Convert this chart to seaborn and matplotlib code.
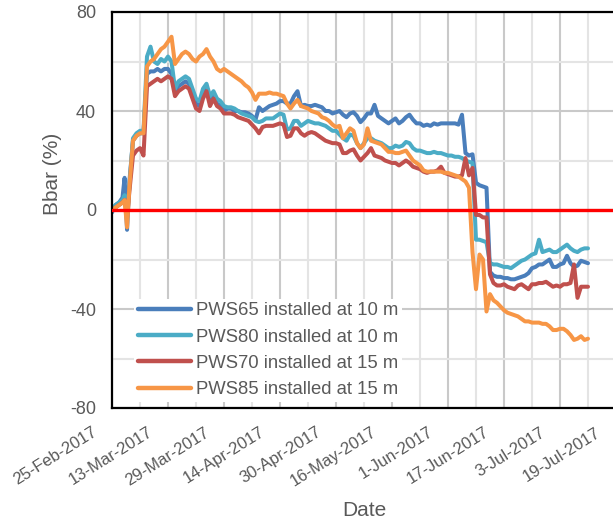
import matplotlib
matplotlib.use("Agg")
import matplotlib.pyplot as plt
import matplotlib.transforms as mtransforms
import pandas as pd
import seaborn as sns

# ---- data -------------------------------------------------------------
start = pd.Timestamp("2017-02-25")
days = [0, 1, 2, 3, 3.6, 4.3] + list(range(5, 137))   # days since start

pws65 = [-1, 2, 3, 5, 13, -8,
         12, 28, 30, 31, 31,
         55, 56, 56, 57, 56, 57, 57, 55, 48, 50,
         51, 52, 51, 47, 43, 42, 47, 49, 44, 46,
         43, 42, 40, 41, 41, 40, 40, 39.5, 39.5, 39,
         38, 36.5, 41.5, 40, 41, 42, 42.5, 43, 44, 44,
         43, 43, 46, 48, 42, 42.5, 42, 42, 42.5, 42,
         41.5, 40, 40, 39, 39.5, 40, 38.5, 37.5, 39, 39.5,
         38, 35.5, 37, 39, 39, 42.5, 38, 37, 36, 35,
         36, 37, 35, 36, 37.5, 38.5, 36.5, 35, 35, 34,
         34.5, 34, 35, 34.5, 35, 35, 35, 35, 35, 34.5,
         38.5, 23, 22, 22.5, 11, 10, 9.5, 9, -25, -26.5,
         -27, -27, -27.5, -27.5, -28, -28, -27.5, -27, -26.5, -25.5,
         -23.5, -23, -22, -22, -21, -20, -23, -23, -22, -21.5,
         -18.5, -21.5, -23, -22.5, -20.5, -21, -21.5]

pws80 = [0, 2, 3, 4, 6, -2,
         10, 29, 31, 32, 32,
         62, 66, 60, 59, 61, 60, 62, 60, 49, 52,
         53, 54, 53, 49, 45, 44, 49, 51, 46, 48,
         45, 44, 42, 41.5, 41.5, 41, 40, 39, 38.5, 38,
         37.5, 36, 35.5, 36, 37, 37, 37, 38, 39, 38.5,
         32.5, 33, 36, 36, 34, 35, 36, 35.5, 35, 35,
         34.5, 34, 33, 32, 32, 30.5, 29, 28, 30.5, 30,
         27, 25, 27, 29, 29, 28, 27.5, 27, 26, 25,
         25, 26, 25.5, 26, 27.5, 27, 25, 24, 24, 23.5,
         23, 23, 23.5, 23, 23, 22.5, 22, 22, 21.5, 21.5,
         21, 20, 19.5, 19, -12, -12, -12.5, -13, -21.5, -22,
         -22, -22.5, -23, -23, -23.5, -22.5, -21.5, -20.5, -20, -19,
         -18, -17.5, -12, -17, -16.5, -16, -17, -17, -16, -15,
         -14, -15.5, -16.5, -17, -16, -15.5, -15.5]

pws70 = [0, 1, 2, 3, 4, -3,
         8, 22, 24, 25, 22,
         50, 51, 52, 53, 52, 53, 54, 53, 46, 48,
         49, 50, 49, 45, 41, 40, 45, 48, 42, 45,
         42, 41, 39, 39, 39, 38.5, 37.5, 37, 36.5, 36,
         34.5, 33, 31, 33.5, 34, 34, 34, 34.5, 35, 34.5,
         29.5, 30, 33, 33, 31, 30, 31, 31.5, 31, 30,
         29, 28, 27.5, 27, 27, 26.5, 23, 23, 24, 24.5,
         22, 20, 21.5, 23, 25, 22, 21.5, 21, 20, 19.5,
         19, 19, 18, 19, 20, 19, 17.5, 17, 16.5, 15.5,
         15, 15.5, 15.5, 16, 17.5, 15, 14.5, 14, 13.5, 13.5,
         14, 21, 14, 17, -2, -2, -3, -3, -26, -29.5,
         -30.5, -30.5, -30, -31, -31.5, -32, -30.5, -30, -31, -32,
         -30, -30, -29.5, -29.5, -29, -30, -31, -30.5, -31, -30,
         -30, -29.5, -22, -35.5, -31, -31, -31]

pws85 = [0, 1, 2, 3, 4, -7,
         10, 28, 30, 31, 31,
         58, 60, 61, 63, 65, 66, 68, 70, 59, 61,
         63, 64, 63, 61, 60, 62, 63, 65, 62, 60,
         57, 56, 57, 56, 55, 54, 53, 52, 50.5, 49.5,
         47.5, 44.5, 47, 47, 47, 47.5, 47, 47, 46.5, 46,
         43, 41, 43, 44.5, 42, 41.5, 41, 40, 39.5, 39,
         37.5, 37, 36, 34.5, 33.5, 34, 29, 31, 33, 32,
         27, 25, 26.5, 33, 28, 27.5, 27, 26.5, 25, 23.5,
         23.5, 23, 23, 23.5, 24, 22, 20, 19, 18, 16,
         15.5, 15.5, 15.5, 15.5, 15.5, 15, 15, 14.5, 14, 13.5,
         12.5, 11.5, 9, -17, -32, -18, -20, -41, -34, -36.5,
         -37.5, -39, -40.5, -41.5, -42, -42.5, -43, -44, -45, -45,
         -45.5, -45.5, -45.5, -46, -46, -47, -48.5, -48.5, -48, -48,
         -49, -50.5, -52.5, -52, -51, -52.5, -52]

series_names = ["PWS65 installed at 10 m", "PWS80 installed at 10 m",
                "PWS70 installed at 15 m", "PWS85 installed at 15 m"]
series_colors = ["#4a7ebb", "#4bacc6", "#c0504d", "#f79646"]

tick_labels = ["25-Feb-2017", "13-Mar-2017", "29-Mar-2017", "14-Apr-2017",
               "30-Apr-2017", "16-May-2017", "1-Jun-2017", "17-Jun-2017",
               "3-Jul-2017", "19-Jul-2017"]
y_ticks = [-80, -40, 0, 40, 80]

# ---- long-form table --------------------------------------------------
dates = start + pd.to_timedelta(days, unit="D")
frames = []
for name, vals in zip(series_names, [pws65, pws80, pws70, pws85]):
    frames.append(pd.DataFrame({"Date": dates, "Bbar": vals, "series": name}))
df = pd.concat(frames, ignore_index=True)

# ---- style ------------------------------------------------------------
sns.set_theme(style="white")
plt.rcParams["font.family"] = ["Liberation Sans", "DejaVu Sans"]
plt.rcParams["axes.unicode_minus"] = False
text_grey = "#595959"

fig = plt.figure(figsize=(6.13, 5.23), dpi=100)
ax = fig.add_axes([112 / 613, 115 / 523, 504 / 613, 396 / 523])

sns.lineplot(data=df, x="Date", y="Bbar", hue="series",
             hue_order=series_names,
             palette=dict(zip(series_names, series_colors)),
             estimator=None, sort=False, linewidth=2.9, ax=ax)
for ln in ax.get_lines():
    ln.set_solid_joinstyle("round")
    ln.set_solid_capstyle("round")

ax.axhline(0, color="#ff0000", linewidth=2.4, zorder=5)

# axes ranges and ticks
tick_dates = pd.to_datetime(tick_labels, format="%d-%b-%Y")
ax.set_xlim(tick_dates[0], tick_dates[-1])
ax.set_xticks(tick_dates)
ax.set_xticklabels(tick_labels)
ax.set_xticks(tick_dates[:-1] + pd.Timedelta(days=8), minor=True)
ax.set_ylim(-80, 80)
ax.set_yticks(y_ticks)
ax.set_yticks([-60, -20, 20, 60], minor=True)

ax.set_axisbelow(True)
ax.grid(visible=True, which="major", color="#c9c9c9", linewidth=1.5)
ax.grid(visible=True, which="minor", color="#e4e4e4", linewidth=1.5)

ax.tick_params(axis="both", which="both", length=0, colors=text_grey)
ax.tick_params(axis="y", labelsize=13, pad=11.5)
ax.tick_params(axis="x", labelsize=12, pad=12)
plt.setp(ax.get_xticklabels(), rotation=32, ha="right", va="top")
shift = mtransforms.ScaledTranslation(-9 / 72, 0, fig.dpi_scale_trans)
for lbl in ax.get_xticklabels():
    lbl.set_transform(lbl.get_transform() + shift)

for side in ["left", "bottom", "top"]:
    ax.spines[side].set_color("black")
    ax.spines[side].set_linewidth(1.6)
ax.spines["right"].set_visible(False)

ax.set_xlabel("Date", fontsize=15, color=text_grey)
ax.set_ylabel("Bbar (%)", fontsize=15, color=text_grey)
ax.xaxis.set_label_coords(0.5, -0.235)
ax.yaxis.set_label_coords(-0.099, 0.591)

handles, labels = ax.get_legend_handles_labels()
leg = ax.legend(handles, labels, loc="upper left",
                bbox_to_anchor=(0.044, 0.276), borderaxespad=0,
                fontsize=13.3, frameon=True, facecolor="white",
                edgecolor="none", framealpha=1, borderpad=0.2,
                labelspacing=0.5, handlelength=2.85, handletextpad=0.3)
for t in leg.get_texts():
    t.set_color(text_grey)
for h in leg.get_lines():
    h.set_linewidth(3.2)

fig.savefig("out.png", dpi=100)
